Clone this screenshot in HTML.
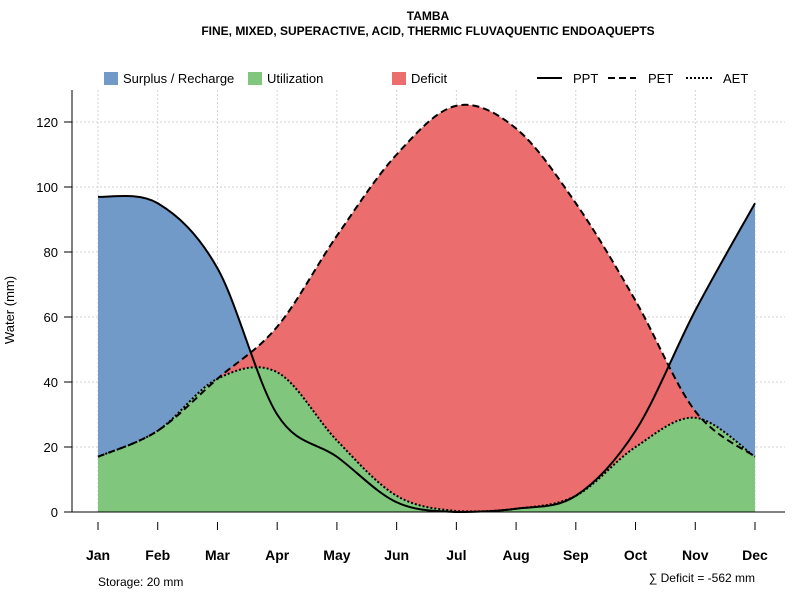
<!DOCTYPE html>
<html><head><meta charset="utf-8"><style>
body{margin:0;background:#fff}
svg{font-family:"Liberation Sans",sans-serif}
</style></head><body>
<svg id="c" width="800" height="600" viewBox="0 0 800 600">
<text x="428" y="20" text-anchor="middle" font-size="12" font-weight="bold">TAMBA</text>
<text x="428" y="35" text-anchor="middle" font-size="12" font-weight="bold">FINE, MIXED, SUPERACTIVE, ACID, THERMIC FLUVAQUENTIC ENDOAQUEPTS</text>
<g id="grid"></g>
<g id="areas"></g>
<g id="lines"></g>
<g id="axes"></g>
<text transform="translate(14,310) rotate(-90)" text-anchor="middle" font-size="13">Water (mm)</text>
<g font-size="13">
<g><rect x="104" y="72" width="14" height="13" fill="#729ac8"/><text x="123" y="83">Surplus / Recharge</text></g>
<g><rect x="248" y="72" width="14" height="13" fill="#80c67c"/><text x="267" y="83">Utilization</text></g>
<g><rect x="392" y="72" width="14" height="13" fill="#ec6d6d"/><text x="411" y="83">Deficit</text></g>
<g><line x1="537" y1="78" x2="562" y2="78" stroke="#000" stroke-width="2"/><text x="573" y="83">PPT</text></g>
<g><line x1="608" y1="78" x2="636" y2="78" stroke="#000" stroke-width="2" stroke-dasharray="7,4"/><text x="648" y="83">PET</text></g>
<g><line x1="686" y1="78" x2="714" y2="78" stroke="#000" stroke-width="2" stroke-dasharray="2,2"/><text x="723" y="83">AET</text></g>
</g>
<text x="98" y="586" font-size="12">Storage: 20 mm</text>
<text x="755" y="582" text-anchor="end" font-size="12">∑ Deficit = -562 mm</text>
</svg>
<script>
const months=["Jan","Feb","Mar","Apr","May","Jun","Jul","Aug","Sep","Oct","Nov","Dec"];
const ppt=[97,95,75,30,17,3,0,1,5,25,62,95];
const pet=[17,25,41,57,85,110,125,118,95,65,31,17];
const aet=[17,25,41,43,22,5,0.3,1,5,20,29,17];
const yTicks=[0,20,40,60,80,100,120];
const NS="http://www.w3.org/2000/svg";
const x=i=>98+i*(755-98)/11;
const y=v=>512-v*3.25;
function mk(t,a,p){const e=document.createElementNS(NS,t);for(const k in a)e.setAttribute(k,a[k]);p.appendChild(e);return e;}
function curve(vals){
  const P=vals.map((v,i)=>[x(i),y(v)]);let d="M"+P[0][0]+","+P[0][1];
  for(let i=0;i<P.length-1;i++){const p0=P[Math.max(i-1,0)],p1=P[i],p2=P[i+1],p3=P[Math.min(i+2,P.length-1)];
    const c1=[p1[0]+(p2[0]-p0[0])/6,Math.min(512,p1[1]+(p2[1]-p0[1])/6)],c2=[p2[0]-(p3[0]-p1[0])/6,Math.min(512,p2[1]-(p3[1]-p1[1])/6)];
    d+=` C${c1[0]},${c1[1]} ${c2[0]},${c2[1]} ${p2[0]},${p2[1]}`;}
  return d;}
const g=document.getElementById("grid");
yTicks.forEach(t=>{const l=mk("line",{x1:72,x2:785,y1:y(t),y2:y(t),stroke:"#d3d3d3","stroke-dasharray":"2,2"},g);
  });
months.forEach((m,i)=>{const l=mk("line",{x1:x(i),x2:x(i),y1:90,y2:512,stroke:"#d3d3d3","stroke-dasharray":"2,2"},g);
  });
const A=document.getElementById("areas");
[[ppt,"#729ac8","surplus-area"],[pet,"#ec6d6d","deficit-area"],[aet,"#80c67c","utilization-area"]].forEach(([v,c,n])=>{
  const p=mk("path",{d:curve(v)+` L${x(11)},512 L${x(0)},512 Z`,fill:c},A);
  });
const L=document.getElementById("lines");
[[ppt,"none","ppt-line"],[pet,"7,4","pet-line"],[aet,"2,2","aet-line"]].forEach(([v,da,n])=>{
  const p=mk("path",{d:curve(v),fill:"none",stroke:"#000","stroke-width":2,"stroke-dasharray":da},L);
  });
const X=document.getElementById("axes");
mk("line",{x1:72,x2:72,y1:90,y2:512,stroke:"#000"},X);
mk("line",{x1:72,x2:785,y1:512,y2:512,stroke:"#000"},X);
yTicks.forEach(t=>{mk("line",{x1:64,x2:72,y1:y(t),y2:y(t),stroke:"#000"},X);
  const tx=mk("text",{x:58,y:y(t)+5,"text-anchor":"end","font-size":13},X);tx.textContent=t;
  });
months.forEach((m,i)=>{mk("line",{x1:x(i),x2:x(i),y1:522,y2:530,stroke:"#000"},X);
  const tx=mk("text",{x:x(i),y:560,"text-anchor":"middle","font-size":14,"font-weight":"bold"},X);tx.textContent=m;
  });
</script>
</body></html>
